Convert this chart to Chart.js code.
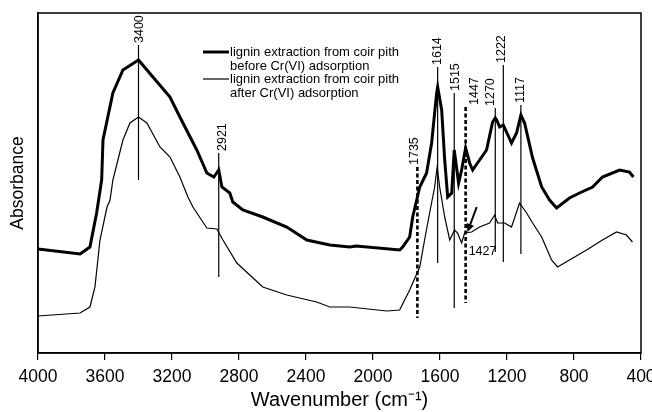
<!DOCTYPE html>
<html lang="en">
<head>
  <meta charset="UTF-8">
  <title>FTIR spectra of lignin from coir pith</title>
  <script src="https://cdn.jsdelivr.net/npm/chart.js"></script>
  <style>
    html, body { margin: 0; padding: 0; background: #fff; overflow: hidden; }
    canvas { display: block; }
  </style>
</head>
<body>
  <canvas id="ftirChart" width="652" height="412"></canvas>

  <script>
    // spectrum before Cr(VI) adsorption (thick line), absorbance in arbitrary units
    const beforeWn = [4000, 3749, 3690, 3650, 3620, 3612, 3553, 3493, 3400, 3314, 3212, 3153, 3052, 2992, 2950, 2921, 2902, 2855, 2837, 2777, 2658, 2515, 2395, 2258, 2139, 2100, 1841, 1823, 1781, 1763, 1739, 1721, 1680, 1650, 1620, 1614, 1590, 1572, 1554, 1530, 1515, 1489, 1471, 1447, 1423, 1405, 1322, 1286, 1270, 1262, 1244, 1222, 1173, 1143, 1117, 1095, 1047, 993, 946, 904, 827, 767, 689, 630, 528, 469, 445];
    const beforeAbs = [104, 99, 106, 140, 173, 213, 260, 283, 293, 276, 256, 236, 203, 180, 176, 183, 166, 160, 151, 143, 136, 126, 113, 108, 106, 107, 103, 106, 116, 136, 153, 166, 180, 210, 260, 266, 243, 193, 156, 160, 203, 170, 183, 205, 190, 183, 203, 231, 235, 233, 226, 228, 210, 220, 238, 230, 195, 166, 153, 145, 155, 160, 166, 176, 183, 181, 176];

    // spectrum after Cr(VI) adsorption (thin line)
    const afterWn = [4000, 3749, 3690, 3660, 3630, 3588, 3570, 3553, 3493, 3451, 3400, 3350, 3272, 3212, 3153, 3105, 3075, 2992, 2932, 2896, 2813, 2658, 2515, 2336, 2258, 2139, 1918, 1841, 1781, 1721, 1692, 1662, 1632, 1617, 1602, 1572, 1542, 1513, 1495, 1471, 1453, 1411, 1364, 1304, 1274, 1256, 1214, 1173, 1125, 1083, 1047, 993, 934, 898, 827, 725, 630, 546, 487, 451];
    const afterAbs = [37, 40, 46, 66, 113, 146, 153, 173, 213, 230, 236, 230, 206, 196, 176, 156, 146, 125, 124, 113, 90, 66, 58, 51, 46, 46, 42, 43, 63, 86, 113, 140, 166, 186, 166, 136, 113, 123, 120, 110, 120, 121, 126, 130, 138, 130, 130, 126, 150, 140, 130, 116, 93, 86, 93, 103, 113, 121, 118, 111];

    // marked bands: position, line top / bottom (same units as absorbance), dashed or not
    const peakWn     = [3400, 2921, 1735, 1614, 1515, 1447, 1270, 1222, 1117];
    const peakLabels = ['3400', '2921', '1735', '1614', '1515', '1447', '1270', '1222', '1117'];
    const peakLabelWn = [3395, 2900, 1752, 1614, 1510, 1393, 1300, 1232, 1120];
    const peakTop    = [308, 200, 186, 286, 260, 246, 245, 288, 248];
    const peakBottom = [173, 76, 35, 90, 45, 50, 101, 91, 99];
    const peakDashed = [false, false, true, false, false, true, false, false, false];

    // the 1427 band, marked with an arrow
    const arrowFrom = { wn: 1381, abs: 146 };
    const arrowTo   = { wn: 1436, abs: 121 };
    const arrowLabel = { text: '1427', wn: 1346, abs: 101 };

    const xTicks = [4000, 3600, 3200, 2800, 2400, 2000, 1600, 1200, 800, 400];

    const seriesNames = ['lignin extraction from coir pith\nbefore Cr(VI) adsorption',
                         'lignin extraction from coir pith\nafter Cr(VI) adsorption'];

    const FONT = '"Liberation Sans", Arial, Helvetica, sans-serif';

    const toPoints = (xs, ys) => xs.map((x, i) => ({ x: x, y: ys[i] }));

    // frame, band markers, arrow and legend
    const extras = {
      id: 'extras',
      afterDatasetsDraw(chart) {
        const { ctx, chartArea: a, scales: { x, y } } = chart;
        ctx.save();
        ctx.strokeStyle = '#000';
        ctx.fillStyle = '#000';

        // box around plot
        ctx.lineWidth = 1.5;
        ctx.strokeRect(a.left, a.top, a.right - a.left, a.bottom - a.top);

        // band markers
        peakWn.forEach((wn, i) => {
          const px = x.getPixelForValue(wn);
          const yt = y.getPixelForValue(peakTop[i]);
          const yb = y.getPixelForValue(peakBottom[i]);
          ctx.beginPath();
          if (peakDashed[i]) {
            ctx.lineWidth = 2.6;
            ctx.setLineDash([4, 2.5]);
          } else {
            ctx.lineWidth = 1.2;
            ctx.setLineDash([]);
          }
          ctx.moveTo(px, yt);
          ctx.lineTo(px, yb);
          ctx.stroke();
          ctx.setLineDash([]);

          ctx.save();
          ctx.translate(x.getPixelForValue(peakLabelWn[i]), yt - 2);
          ctx.rotate(-Math.PI / 2);
          ctx.font = '12.5px ' + FONT;
          ctx.textAlign = 'left';
          ctx.textBaseline = 'middle';
          ctx.fillText(peakLabels[i], 0, 0);
          ctx.restore();
        });

        // arrow to 1427
        const x1 = x.getPixelForValue(arrowFrom.wn), y1 = y.getPixelForValue(arrowFrom.abs);
        const x2 = x.getPixelForValue(arrowTo.wn), y2 = y.getPixelForValue(arrowTo.abs);
        const ang = Math.atan2(y2 - y1, x2 - x1);
        ctx.lineWidth = 2;
        ctx.beginPath();
        ctx.moveTo(x1, y1);
        ctx.lineTo(x2 - 4 * Math.cos(ang), y2 - 4 * Math.sin(ang));
        ctx.stroke();
        ctx.beginPath();
        ctx.moveTo(x2, y2);
        ctx.lineTo(x2 - 9 * Math.cos(ang - 0.45), y2 - 9 * Math.sin(ang - 0.45));
        ctx.lineTo(x2 - 9 * Math.cos(ang + 0.45), y2 - 9 * Math.sin(ang + 0.45));
        ctx.closePath();
        ctx.fill();
        ctx.font = '12.5px ' + FONT;
        ctx.textAlign = 'center';
        ctx.textBaseline = 'middle';
        ctx.fillText(arrowLabel.text, x.getPixelForValue(arrowLabel.wn), y.getPixelForValue(arrowLabel.abs));

        // legend
        ctx.font = '13px ' + FONT;
        ctx.textAlign = 'left';
        ctx.textBaseline = 'middle';
        let ly = a.top + 39;
        chart.data.datasets.forEach(ds => {
          ctx.lineWidth = ds.borderWidth;
          ctx.beginPath();
          ctx.moveTo(203, ly);
          ctx.lineTo(229, ly);
          ctx.stroke();
          ds.label.split('\n').forEach((line, k) => {
            ctx.fillText(line, 230, ly + k * 14);
          });
          ly += 27;
        });
        ctx.restore();
      }
    };

    new Chart(document.getElementById('ftirChart').getContext('2d'), {
      type: 'line',
      data: {
        datasets: [
          {
            label: seriesNames[0],
            data: toPoints(beforeWn, beforeAbs),
            borderColor: '#000',
            borderWidth: 3,
            pointRadius: 0,
            tension: 0,
            fill: false
          },
          {
            label: seriesNames[1],
            data: toPoints(afterWn, afterAbs),
            borderColor: '#000',
            borderWidth: 1.2,
            pointRadius: 0,
            tension: 0,
            fill: false
          }
        ]
      },
      options: {
        responsive: false,
        animation: false,
        layout: { padding: { top: 13, right: 11, left: 0, bottom: 0 } },
        plugins: {
          legend: { display: false },
          tooltip: { enabled: false }
        },
        scales: {
          x: {
            type: 'linear',
            reverse: true,
            min: 400,
            max: 4000,
            afterBuildTicks: scale => { scale.ticks = xTicks.map(v => ({ value: v })); },
            afterFit: scale => {
              scale.height = 59;
              scale.paddingLeft = 0;
              scale.paddingRight = 0;
            },
            ticks: {
              color: '#000',
              font: { family: FONT, size: 17.5 },
              padding: 7,
              maxRotation: 0,
              autoSkip: false,
              callback: v => String(v)
            },
            grid: { drawOnChartArea: false, color: '#000', tickLength: 7, lineWidth: 1.2 },
            border: { color: '#000', width: 1.5 },
            title: {
              display: true,
              text: 'Wavenumber (cm\u207B\u00B9)',
              color: '#000',
              font: { family: FONT, size: 20 },
              padding: { top: 0, bottom: 0 }
            }
          },
          y: {
            min: 0,
            max: 340,
            afterFit: scale => { scale.width = 38; },
            ticks: { display: false },
            grid: { display: false },
            border: { color: '#000', width: 1.5 },
            title: {
              display: true,
              text: 'Absorbance',
              color: '#000',
              font: { family: FONT, size: 17.5 },
              padding: { top: 8, bottom: 0 }
            }
          }
        }
      },
      plugins: [extras]
    });
  </script>
</body>
</html>
